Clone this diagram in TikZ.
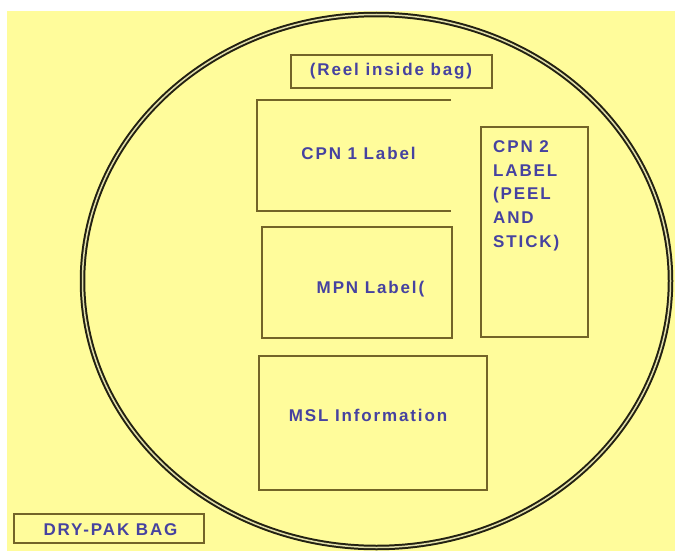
\documentclass[tikz,border=0pt]{standalone}
\usepackage{fontspec}
\newfontfamily\lblfont{Liberation Sans Bold}[LetterSpace=11]
\definecolor{bagyellow}{RGB}{255,252,155}
\definecolor{ringcol}{RGB}{35,33,18}
\definecolor{ringgap}{RGB}{225,222,170}
\definecolor{boxcol}{RGB}{115,100,40}
\definecolor{txtcol}{RGB}{70,66,160}
\begin{document}
\begin{tikzpicture}[x=1pt,y=-1pt,
  lbl/.style={font=\lblfont\fontsize{17}{23.6}\selectfont, text=txtcol, inner sep=0pt},
  boxline/.style={draw=boxcol, line width=1.4pt},
  boxnode/.style={rectangle, inner sep=0pt, outer sep=0pt, anchor=north west}]
\useasboundingbox (0,0) rectangle (675,551);
\fill[white] (0,0) rectangle (675,551);
\fill[bagyellow] (7,11) rectangle (675,551);
% bag outline
\draw[draw=ringcol, line width=2pt, double=ringgap, double distance=1.5pt]
  (376.5,281) ellipse [x radius=294, y radius=266.5];
% boxes
\node[boxnode, boxline, minimum width=201, minimum height=33] (reelbox) at (291,55) {};
\node[boxnode, minimum width=194, minimum height=111] (cpn1box) at (257,100) {};
\draw[boxline] (cpn1box.north east) -- (cpn1box.north west) -- (cpn1box.south west) -- (cpn1box.south east);
\node[boxnode, boxline, minimum width=107, minimum height=210] (cpn2box) at (481,127) {};
\node[boxnode, boxline, minimum width=190, minimum height=111] (mpnbox) at (262,227) {};
\node[boxnode, boxline, minimum width=228, minimum height=134] (mslbox) at (259,356) {};
\node[boxnode, boxline, minimum width=190, minimum height=29] (drybox) at (14,514) {};
% texts
\node[lbl, anchor=base] (reeltxt) at (391,76) {(Reel inside bag)};
\node[lbl, anchor=base] (cpn1txt) at (358.5,159) {CPN 1 Label};
\node[lbl, anchor=base] (mpntxt) at (370.5,293) {MPN Label(};
\node[lbl, anchor=base] (msltxt) at (368,421) {MSL Information};
\node[lbl, anchor=base west, align=left] (cpn2txt) at (493,247) {CPN 2\\LABEL\\(PEEL\\AND\\STICK)};
\node[lbl, anchor=base] (drytxt) at (110.5,535) {DRY-PAK BAG};
\end{tikzpicture}
\end{document}
